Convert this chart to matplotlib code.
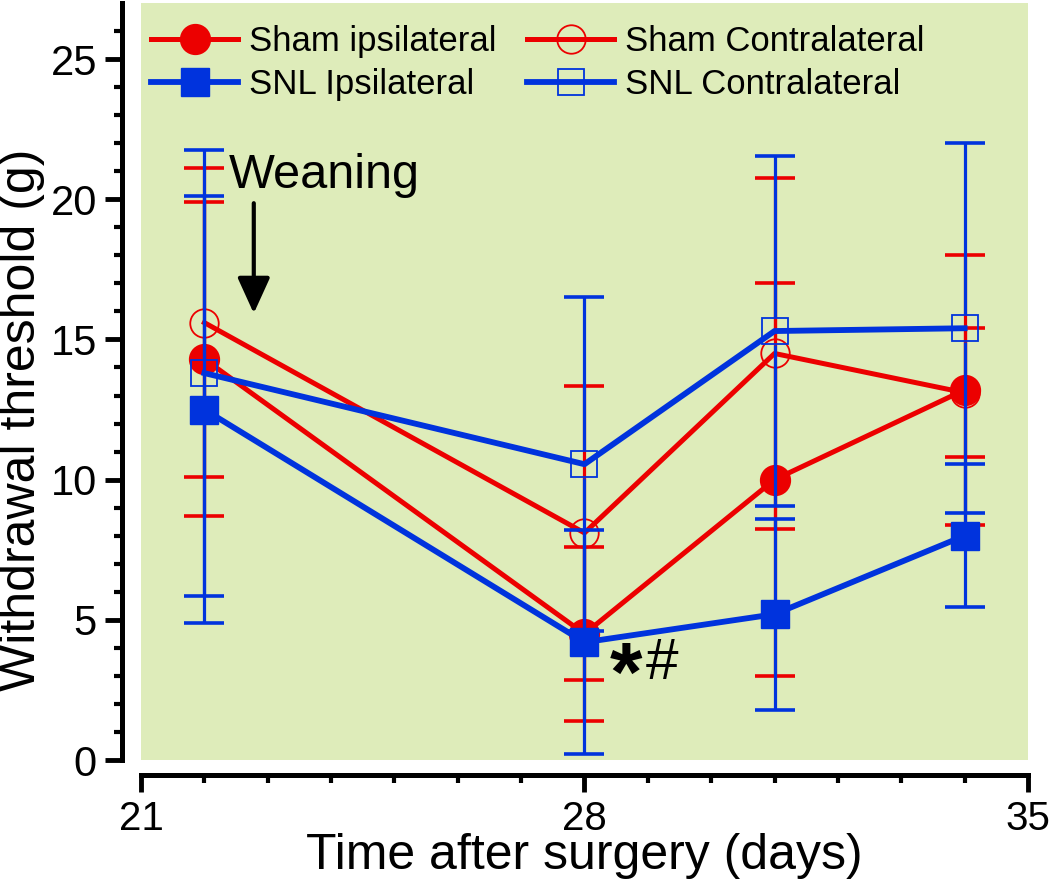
import numpy as np
import matplotlib
matplotlib.use('Agg')
import matplotlib.pyplot as plt

plt.rcParams['font.family'] = ['Liberation Sans', 'DejaVu Sans']

# data (mean and SD)
days = [22, 28, 31, 34]
sham_ipsi = [14.3, 4.5, 10.0, 13.2]
sham_ipsi_sd = [5.6, 3.1, 7.0, 4.8]
sham_contra = [15.6, 8.1, 14.5, 13.1]
sham_contra_sd = [5.5, 5.25, 6.25, 2.3]
snl_ipsi = [12.5, 4.2, 5.2, 8.0]
snl_ipsi_sd = [7.6, 4.0, 3.4, 2.55]
snl_contra = [13.8, 10.55, 15.3, 15.4]
snl_contra_sd = [7.95, 5.95, 6.25, 6.6]

labels = ['Sham ipsilateral', 'Sham Contralateral', 'SNL Ipsilateral', 'SNL Contralateral']

red = '#EC0000'
blue = '#0033DD'
bg = '#DEECBA'

fig = plt.figure(figsize=(10.5, 8.82), dpi=100)
ax = fig.add_axes([0.1343, 0.1383, 0.8447, 0.8583])
ax.set_facecolor(bg)

series = [
    (sham_ipsi, sham_ipsi_sd, red, 'o', True, 21.5, 3.6),
    (sham_contra, sham_contra_sd, red, 'o', False, 20.5, 3.6),
    (snl_ipsi, snl_ipsi_sd, blue, 's', True, 19.5, 4.2),
    (snl_contra, snl_contra_sd, blue, 's', False, 19.0, 4.2),
]

gap = 0.5  # error bars start at marker edge, like Origin
handles = []
for i, (y, sd, c, m, filled, ms, lw) in enumerate(series):
    z = 3 + i
    y = np.array(y)
    sd = np.array(sd)
    x = np.array(days)
    # error bar stems (from marker edge outward) and caps
    ax.vlines(x, y + gap, y + sd, color=c, lw=2.3, zorder=z)
    ax.vlines(x, y - sd, y - gap, color=c, lw=2.3, zorder=z)
    ax.plot(x, y + sd, ls='none', marker='_', ms=29, mew=2.6, color=c, zorder=z)
    ax.plot(x, y - sd, ls='none', marker='_', ms=29, mew=2.6, color=c, zorder=z)
    if filled:
        h, = ax.plot(x, y, color=c, lw=lw, marker=m, ms=ms, mfc=c, mec=c,
                     label=labels[i], zorder=z)
    else:
        h, = ax.plot(x, y, color=c, lw=lw, marker=m, ms=ms, mfc='none', mec=c,
                     mew=1.3, label=labels[i], zorder=z)
    handles.append(h)

ax.set_xlim(21, 35)
ax.set_ylim(0, 27)
ax.set_xticks([21, 28, 35])
ax.set_xticks(np.arange(21, 36, 1), minor=True)
ax.set_yticks([0, 5, 10, 15, 20, 25])
ax.set_yticks(np.arange(0, 27, 1), minor=True)

for s in ['top', 'right']:
    ax.spines[s].set_visible(False)
ax.spines['left'].set_position(('outward', 13.7))
ax.spines['bottom'].set_position(('outward', 10.8))
for s in ['left', 'bottom']:
    ax.spines[s].set_linewidth(3.6)

ax.tick_params(which='major', direction='out', length=12, width=3.5)
ax.tick_params(which='minor', direction='out', length=6, width=3)
ax.tick_params(axis='y', labelsize=30, pad=6)
ax.tick_params(axis='x', labelsize=29, pad=6)

ax.set_xlabel('Time after surgery (days)', fontsize=36, va='baseline')
ax.set_ylabel('Withdrawal threshold (g)', fontsize=36)
ax.xaxis.set_label_coords(0.5, -0.1435)
ax.yaxis.set_label_coords(-0.108, 0.449)

ax.legend(handles=[handles[0], handles[2], handles[1], handles[3]],
          labels=[labels[0], labels[2], labels[1], labels[3]],
          ncol=2, loc='upper left', bbox_to_anchor=(0.0, 0.985), frameon=False,
          fontsize=25, handlelength=2.5, handletextpad=0.3, columnspacing=0.9,
          labelspacing=0.3, borderaxespad=0, borderpad=0.3, numpoints=1)

# annotations
ax.text(22.38, 20.4, 'Weaning', fontsize=35, ha='left', va='baseline')
ax.annotate('', xy=(22.78, 15.93), xytext=(22.78, 19.86),
            arrowprops=dict(arrowstyle='-|>,head_length=0.55,head_width=0.25',
                            lw=3, color='black', mutation_scale=40,
                            shrinkA=0, shrinkB=0))
ax.text(28.66, 2.1, '*', fontsize=60, fontweight='bold', ha='center', va='baseline')
ax.text(28.97, 2.9, '#', fontsize=42, ha='left', va='baseline')

fig.savefig('out.png', dpi=100)
